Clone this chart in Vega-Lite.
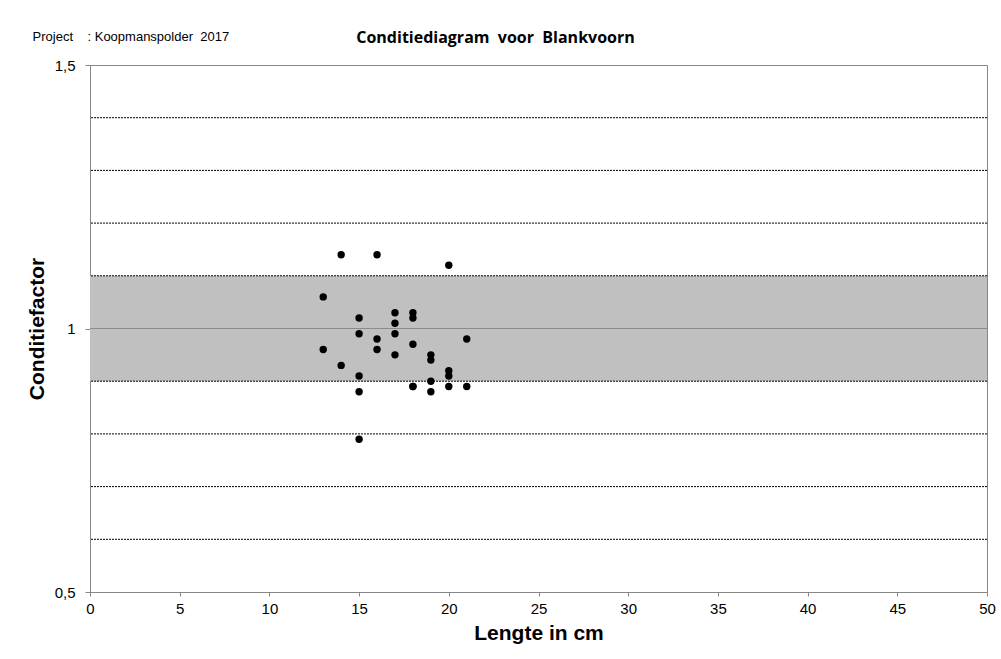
{
  "$schema": "https://vega.github.io/schema/vega-lite/v6.json",
  "width": 897,
  "height": 527,
  "autosize": {"type": "none"},
  "padding": {"left": 90, "top": 65, "right": 14, "bottom": 67},
  "background": "white",
  "config": {
    "font": "Liberation Sans",
    "view": {"stroke": "#868686", "strokeWidth": 1},
    "axis": {"labelFont": "Liberation Sans", "labelFontSize": 15, "labelColor": "#000", "titleFont": "Liberation Sans", "titleFontSize": 21, "titleFontWeight": "bold", "titleColor": "#000", "domainColor": "#868686", "tickColor": "#868686", "grid": false}
  },
  "title": {"text": "Conditiediagram\u00a0 voor\u00a0 Blankvoorn", "font": "Open Sans", "fontSize": 16, "fontWeight": "bold", "color": "#000", "anchor": "middle", "frame": "group", "dx": -43, "offset": -15},
  "datasets": {
    "fish": [
      {"lengte": 13, "factor": 1.06}, {"lengte": 13, "factor": 0.96},
      {"lengte": 14, "factor": 1.14}, {"lengte": 14, "factor": 0.93},
      {"lengte": 15, "factor": 1.02}, {"lengte": 15, "factor": 0.99}, {"lengte": 15, "factor": 0.91}, {"lengte": 15, "factor": 0.88}, {"lengte": 15, "factor": 0.79},
      {"lengte": 16, "factor": 1.14}, {"lengte": 16, "factor": 0.98}, {"lengte": 16, "factor": 0.96},
      {"lengte": 17, "factor": 1.03}, {"lengte": 17, "factor": 1.01}, {"lengte": 17, "factor": 0.99}, {"lengte": 17, "factor": 0.95},
      {"lengte": 18, "factor": 1.03}, {"lengte": 18, "factor": 1.02}, {"lengte": 18, "factor": 0.97}, {"lengte": 18, "factor": 0.89}, {"lengte": 18, "factor": 0.89},
      {"lengte": 19, "factor": 0.95}, {"lengte": 19, "factor": 0.94}, {"lengte": 19, "factor": 0.90}, {"lengte": 19, "factor": 0.88},
      {"lengte": 20, "factor": 1.12}, {"lengte": 20, "factor": 0.92}, {"lengte": 20, "factor": 0.91}, {"lengte": 20, "factor": 0.89},
      {"lengte": 21, "factor": 0.98}, {"lengte": 21, "factor": 0.89}
    ],
    "band": [{"lo": 0.9, "hi": 1.1}],
    "grid": [{"g": 0.6}, {"g": 0.7}, {"g": 0.8}, {"g": 0.9}, {"g": 1.1}, {"g": 1.2}, {"g": 1.3}, {"g": 1.4}],
    "mid": [{"m": 1.0}],
    "label": [{"t": "Project\u00a0\u00a0\u00a0\u00a0: Koopmanspolder\u00a0\u00a02017"}]
  },
  "layer": [
    {
      "data": {"name": "band"},
      "mark": {"type": "rect", "color": "#c0c0c0"},
      "encoding": {
        "y": {"field": "lo", "type": "quantitative", "scale": {"domain": [0.5, 1.5], "nice": false, "zero": false},
          "axis": {"values": [0.5, 1, 1.5], "labelExpr": "replace(format(datum.value, '~g'), '.', ',')", "tickSize": 5, "labelPadding": 10, "title": "Conditiefactor", "titlePadding": 7}},
        "y2": {"field": "hi"}
      }
    },
    {
      "data": {"name": "grid"},
      "mark": {"type": "rule", "color": "#000", "strokeWidth": 1, "strokeDash": [2, 1]},
      "encoding": {"y": {"field": "g", "type": "quantitative"}}
    },
    {
      "data": {"name": "mid"},
      "mark": {"type": "rule", "color": "#8c8c8c", "strokeWidth": 1},
      "encoding": {"y": {"field": "m", "type": "quantitative"}}
    },
    {
      "data": {"name": "fish"},
      "mark": {"type": "circle", "color": "#000", "opacity": 1, "size": 55},
      "encoding": {
        "x": {"field": "lengte", "type": "quantitative", "scale": {"domain": [0, 50], "nice": false},
          "axis": {"values": [0, 5, 10, 15, 20, 25, 30, 35, 40, 45, 50], "labelFlush": false, "tickSize": 4, "labelPadding": 5, "title": "Lengte in cm", "titlePadding": 6}},
        "y": {"field": "factor", "type": "quantitative"}
      }
    },
    {
      "data": {"name": "label"},
      "mark": {"type": "text", "align": "left", "baseline": "middle", "fontSize": 13, "font": "Liberation Sans", "color": "#000", "clip": false},
      "encoding": {
        "text": {"field": "t"},
        "x": {"datum": -3.2, "type": "quantitative"},
        "y": {"datum": 1.553, "type": "quantitative"}
      }
    }
  ]
}
